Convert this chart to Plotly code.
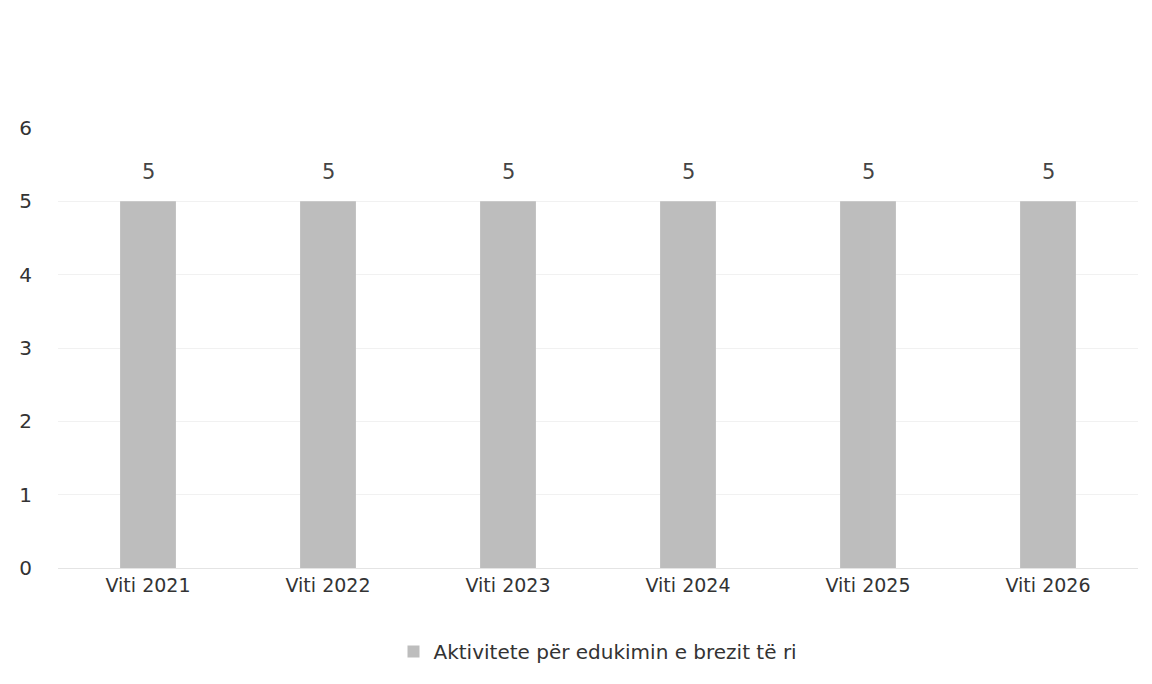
import plotly.graph_objects as go

years = ["Viti 2021", "Viti 2022", "Viti 2023", "Viti 2024", "Viti 2025", "Viti 2026"]
activities = [5, 5, 5, 5, 5, 5]
series_name = "Aktivitete për edukimin e brezit të ri"

fig = go.Figure()
fig.add_trace(go.Bar(
    x=years, y=activities, name=series_name,
    marker=dict(color="#bdbdbd", line=dict(width=0)),
))

# value labels above the bars
for yr, v in zip(years, activities):
    fig.add_annotation(x=yr, y=v, text=str(v), showarrow=False,
                       yanchor="middle", yshift=29,
                       font=dict(size=21, color="#444444"))

# page body has an 8px margin, so the figure is a bit smaller than the window
fig.update_layout(
    width=1144, height=676,
    margin=dict(l=50, r=14, t=120, b=116),
    paper_bgcolor="white", plot_bgcolor="white",
    font=dict(family="DejaVu Sans", size=19, color="#333333"),
    bargap=0.69,
    showlegend=True,
    legend=dict(orientation="h", x=0.5, xanchor="center", y=-0.19, yanchor="middle",
                font=dict(size=20, color="#333333")),
)
fig.update_yaxes(range=[0, 6], dtick=1, showgrid=True, gridcolor="#f1f1f1",
                 zeroline=False, ticks="", tickfont=dict(size=20),
                 ticklabelstandoff=25, automargin=False)
fig.update_xaxes(showline=True, linecolor="#e4e4e4", ticks="", tickfont=dict(size=19),
                 automargin=False)

fig.write_html("out.html")
